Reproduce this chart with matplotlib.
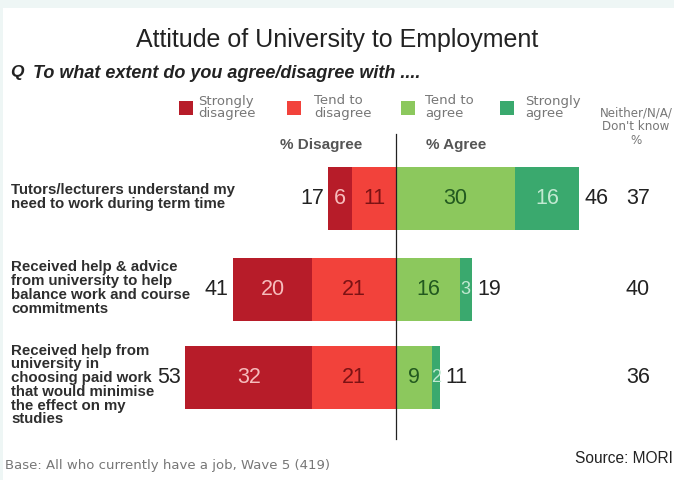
import matplotlib
matplotlib.use('Agg')
import matplotlib.pyplot as plt
from matplotlib.patches import Rectangle

plt.rcParams['font.family'] = ['Liberation Sans', 'DejaVu Sans']

# Данные опроса, % респондентов
statements = [
    'Tutors/lecturers understand my\nneed to work during term time',
    'Received help & advice\nfrom university to help\nbalance work and course\ncommitments',
    'Received help from\nuniversity in\nchoosing paid work\nthat would minimise\nthe effect on my\nstudies',
]
strongly_disagree = [6, 20, 32]
tend_disagree = [11, 21, 21]
tend_agree = [30, 16, 9]
strongly_agree = [16, 3, 2]
total_disagree = [17, 41, 53]
total_agree = [46, 19, 11]
neither = [37, 40, 36]

legend_labels = ['Strongly\ndisagree', 'Tend to\ndisagree', 'Tend to\nagree', 'Strongly\nagree']
colors = ['#b71c29', '#f2423b', '#8cc85d', '#3aa96e']
inner_text = ['#f6bcbc', '#7c1214', '#22591f', '#c2e9d2']

W, H = 674, 481
ZERO = 396        # положение нулевой линии, px
PX = 3.98         # px на 1 %
bar_y = [199, 290, 378]
label_y = [197, 288, 385]
bar_h = 63

fig = plt.figure(figsize=(W / 100, H / 100), dpi=100)
fig.patch.set_facecolor('#eef6f5')

# слой для подписей в пиксельных координатах
lay = fig.add_axes([0, 0, 1, 1])
lay.set_xlim(0, W)
lay.set_ylim(H, 0)
lay.axis('off')
lay.add_patch(Rectangle((3, 9), W, H, facecolor='white', edgecolor='none'))

# основной слой со столбцами: x в процентах
ax = fig.add_axes([0, 0, 1, 1])
ax.set_xlim(-ZERO / PX, (W - ZERO) / PX)
ax.set_ylim(H, 0)
ax.axis('off')
ax.patch.set_alpha(0)

for i, y in enumerate(bar_y):
    sd, td, ta, sa = strongly_disagree[i], tend_disagree[i], tend_agree[i], strongly_agree[i]
    segs = [(-(sd + td), sd), (-td, td), (0, ta), (ta, sa)]
    for k, (left, width) in enumerate(segs):
        ax.barh(y, width, left=left, height=bar_h, color=colors[k], edgecolor='none')
        fs = 15.5 if width >= 4 else 13
        ax.text(left + width / 2, y, str(width), ha='center', va='center',
                fontsize=fs, color=inner_text[k])
    ax.text(-(sd + td) - 1.0, y, str(total_disagree[i]), ha='right', va='center',
            fontsize=15.5, color='#222222')
    ax.text(ta + sa + 1.4, y, str(total_agree[i]), ha='left', va='center',
            fontsize=15.5, color='#222222')
    lay.text(638, y, str(neither[i]), ha='center', va='center', fontsize=15.5, color='#222222')
    lay.text(11, label_y[i], statements[i], ha='left', va='center', fontsize=10.8,
             fontweight='bold', color='#2e2e2e', linespacing=0.98)

ax.plot([0, 0], [135, 440], color='#222222', lw=0.9)

# заголовки
lay.text(W / 2, 40, 'Attitude of University to Employment', ha='center', va='center',
         fontsize=18, color='#222222')
lay.text(10, 73, 'Q', ha='left', va='center', fontsize=12.5, style='italic',
         fontweight='bold', color='#222222')
lay.text(33, 73, 'To what extent do you agree/disagree with ....', ha='left', va='center',
         fontsize=13, style='italic', fontweight='bold', color='#222222')

# легенда
sq_x = [179, 287, 401, 500]
tx_x = [198, 314, 425, 525]
for k in range(4):
    lay.add_patch(Rectangle((sq_x[k], 102), 14, 14, facecolor=colors[k], edgecolor='none'))
    lay.text(tx_x[k], 107, legend_labels[k], ha='left', va='center', fontsize=9.5,
             family='DejaVu Sans', color='#777777', linespacing=0.9)
lay.text(636, 127, 'Neither/N/A/\nDon\'t know\n%', ha='center', va='center', fontsize=8.6,
         family='DejaVu Sans', color='#777777', linespacing=1.1)

lay.text(321, 145, '% Disagree', ha='center', va='center', fontsize=11,
         fontweight='bold', color='#555555')
lay.text(456, 145, '% Agree', ha='center', va='center', fontsize=11,
         fontweight='bold', color='#555555')

lay.text(5, 466, 'Base: All who currently have a job, Wave 5 (419)', ha='left', va='center',
         fontsize=9.5, family='DejaVu Sans', color='#777777')
lay.text(575, 459, 'Source: MORI', ha='left', va='center', fontsize=11.2, color='#222222')

fig.savefig('out.png', dpi=100, facecolor=fig.get_facecolor())
